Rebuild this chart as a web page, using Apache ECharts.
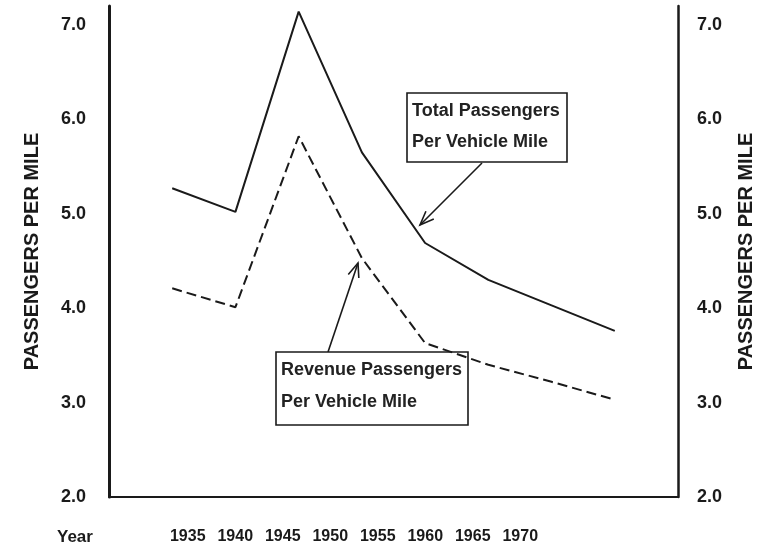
<!DOCTYPE html>
<html>
<head>
<meta charset="utf-8">
<script src="https://cdn.jsdelivr.net/npm/echarts@6/dist/echarts.min.js"></script>
<style>
  html, body { margin: 0; padding: 0; background: #fff; }
  #chart { width: 769px; height: 551px; }
</style>
</head>
<body>
<div id="chart"></div>
<script>
const years = [1935, 1940, 1945, 1950, 1955, 1960, 1965, 1970];
const yearLabels = ['1935', '1940', '1945', '1950', '1955', '1960', '1965', '1970'];
const totalPassengers = [5.27, 5.02, 7.14, 5.65, 4.69, 4.30, 4.03, 3.76];
const revenuePassengers = [4.21, 4.01, 5.82, 4.53, 3.63, 3.40, 3.22, 3.03];

const font = '"Liberation Sans", Arial, sans-serif';
const ink = '#1a1a1a';

// open "V" arrow head for the callouts
function arrow(x1, y1, x2, y2) {
  const a = Math.atan2(y2 - y1, x2 - x1);
  const len = 15, spread = 0.38;
  return [
    { type: 'line', shape: { x1, y1, x2, y2 }, style: { stroke: ink, lineWidth: 1.6 } },
    {
      type: 'polyline',
      shape: { points: [
        [x2 - len * Math.cos(a - spread), y2 - len * Math.sin(a - spread)],
        [x2, y2],
        [x2 - len * Math.cos(a + spread), y2 - len * Math.sin(a + spread)]
      ] },
      style: { stroke: ink, lineWidth: 1.6, fill: null }
    }
  ];
}

function box(x, y, w, h, lines, lineGap) {
  const items = [{ type: 'rect', shape: { x, y, width: w, height: h }, style: { stroke: ink, lineWidth: 1.6, fill: '#fff' } }];
  lines.forEach((t, i) => {
    items.push({
      type: 'text', x: x + 5, y: y + 18 + i * lineGap,
      style: { text: t, font: 'bold 18px ' + font, fill: '#222', textVerticalAlign: 'middle' }
    });
  });
  return items;
}

const chart = echarts.init(document.getElementById('chart'));
chart.setOption({
  backgroundColor: '#fff',
  animation: false,
  grid: [
    { left: 109, right: 91, top: 6, bottom: 54 },
    { left: 164, width: 380, top: 6, bottom: 54 }
  ],
  xAxis: [
    {
      type: 'value', gridIndex: 0, min: 1930, max: 1975,
      axisLine: { show: true, lineStyle: { color: ink, width: 2 } },
      axisTick: { show: false }, axisLabel: { show: false }, splitLine: { show: false }
    },
    {
      type: 'category', gridIndex: 1, data: yearLabels, boundaryGap: true,
      axisLine: { show: false }, axisTick: { show: false }, splitLine: { show: false },
      axisLabel: { margin: 32, color: ink, fontSize: 16, fontWeight: 'bold', fontFamily: font }
    }
  ],
  yAxis: [
    {
      type: 'value', gridIndex: 0, position: 'left', min: 2, max: 7.2, interval: 1,
      axisLine: { show: true, lineStyle: { color: ink, width: 3 } },
      axisTick: { show: false }, splitLine: { show: false },
      axisLabel: { showMaxLabel: false, margin: 23, color: ink, fontSize: 18, fontWeight: 'bold', fontFamily: font,
        formatter: v => v.toFixed(1) },
      name: 'PASSENGERS PER MILE', nameLocation: 'middle', nameRotate: 90, nameGap: 67,
      nameTextStyle: { color: ink, fontSize: 20, fontWeight: 'bold', fontFamily: font }
    },
    {
      type: 'value', gridIndex: 0, position: 'right', min: 2, max: 7.2, interval: 1,
      axisLine: { show: true, lineStyle: { color: ink, width: 2.5 } },
      axisTick: { show: false }, splitLine: { show: false },
      axisLabel: { showMaxLabel: false, margin: 19, color: ink, fontSize: 18, fontWeight: 'bold', fontFamily: font,
        formatter: v => v.toFixed(1) },
      name: 'PASSENGERS PER MILE', nameLocation: 'middle', nameRotate: 90, nameGap: 58,
      nameTextStyle: { color: ink, fontSize: 20, fontWeight: 'bold', fontFamily: font }
    },
    { type: 'value', gridIndex: 1, show: false }
  ],
  series: [
    {
      name: 'Total Passengers Per Vehicle Mile', type: 'line', xAxisIndex: 0, yAxisIndex: 0,
      data: years.map((y, i) => [y, totalPassengers[i]]),
      symbol: 'none', lineStyle: { color: ink, width: 2 }
    },
    {
      name: 'Revenue Passengers Per Vehicle Mile', type: 'line', xAxisIndex: 0, yAxisIndex: 0,
      data: years.map((y, i) => [y, revenuePassengers[i]]),
      symbol: 'none', lineStyle: { color: ink, width: 2, type: [10, 5] }
    }
  ],
  graphic: [
    { type: 'text', x: 57, y: 537, style: { text: 'Year', font: 'bold 17px ' + font, fill: ink, textVerticalAlign: 'middle' } },
    ...arrow(482, 163, 420, 225),
    ...arrow(328, 352, 358, 263),
    ...box(407, 93, 160, 69, ['Total Passengers', 'Per Vehicle Mile'], 31),
    ...box(276, 352, 192, 73, ['Revenue Passengers', 'Per Vehicle Mile'], 32)
  ]
});
</script>
</body>
</html>
